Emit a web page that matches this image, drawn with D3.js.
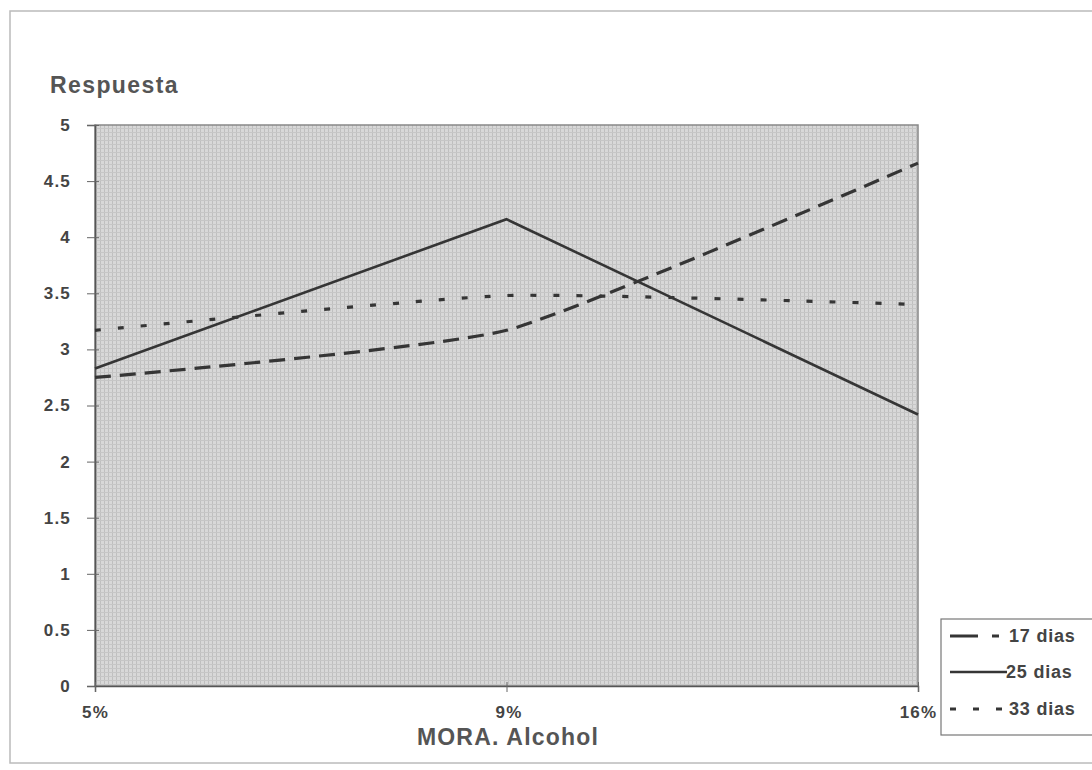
<!DOCTYPE html>
<html><head><meta charset="utf-8">
<script src="https://cdn.jsdelivr.net/npm/d3@7"></script>
<style>body{margin:0;background:#fff}svg{display:block;font-family:"Liberation Sans",Arial,sans-serif}</style>
</head><body>
<svg id="c" width="1092" height="770"></svg>
<script>
const categories = ["5%", "9%", "16%"];
const yTicks = [0, 0.5, 1, 1.5, 2, 2.5, 3, 3.5, 4, 4.5, 5];
const yTickLabels = ["0", "0.5", "1", "1.5", "2", "2.5", "3", "3.5", "4", "4.5", "5"];
const seriesNames = ["17 dias", "25 dias", "33 dias"];
const dias17 = [2.75, 3.17, 4.66];
const dias25 = [2.83, 4.16, 2.42];
const dias33 = [3.17, 3.48, 3.40];

const svg = d3.select("#c");
const L = 95, R = 918, T = 125, B = 686;

// outer frame
svg.append("rect").attr("x", 10).attr("y", 11).attr("width", 1085).attr("height", 752)
  .attr("fill", "none").attr("stroke", "#bbb").attr("stroke-width", 1.5);

// pattern background
const defs = svg.append("defs");
const pat = defs.append("pattern").attr("id", "p").attr("width", 4).attr("height", 4).attr("patternUnits", "userSpaceOnUse");
pat.append("rect").attr("width", 4).attr("height", 4).attr("fill", "#d8d8d8");
pat.append("rect").attr("width", 1).attr("height", 4).attr("fill", "#bfbfbf");
pat.append("rect").attr("width", 4).attr("height", 1).attr("fill", "#c6c6c6");

const x = d3.scalePoint().domain(categories).range([L, R]);
const y = d3.scaleLinear().domain([0, 5]).range([B, T]);

svg.append("rect").attr("x", L).attr("y", T).attr("width", R - L).attr("height", B - T)
  .attr("fill", "url(#p)").attr("stroke", "#888").attr("stroke-width", 1.5);

const tickFont = (sel) => sel.attr("fill", "#444").attr("font-size", 17).attr("font-weight", "bold").attr("letter-spacing", 1.2);

// y axis
const yAxis = d3.axisLeft(y).tickValues(yTicks).tickFormat((d, i) => yTickLabels[i]).tickSize(8).tickPadding(10);
const ya = svg.append("g").attr("transform", `translate(${L},0)`).call(yAxis);
ya.select(".domain").attr("stroke", "#555").attr("stroke-width", 1.5);
ya.selectAll(".tick line").attr("stroke", "#666").attr("x2", 4).attr("x1", -8);
ya.selectAll(".tick text").call(tickFont).attr("dx", -6);

// x axis
const xAxis = d3.axisBottom(x).tickSize(6).tickPadding(14);
const xa = svg.append("g").attr("transform", `translate(0,${B})`).call(xAxis);
xa.select(".domain").attr("stroke", "#555").attr("stroke-width", 1.5);
xa.selectAll(".tick line").attr("stroke", "#666").attr("y1", -4);
xa.selectAll(".tick text").call(tickFont).attr("text-anchor", "middle")
  .attr("dx", (d, i) => i === 1 ? 2 : 0);

svg.append("text").attr("x", 508).attr("y", 745).attr("text-anchor", "middle")
  .attr("font-size", 23).attr("font-weight", "bold").attr("fill", "#555").attr("letter-spacing", 1.2).text("MORA. Alcohol");
svg.append("text").attr("x", 50).attr("y", 93)
  .attr("font-size", 23).attr("font-weight", "bold").attr("fill", "#555").attr("letter-spacing", 1.4).text("Respuesta");

// series
const styles = [
  {data: dias17, dash: "16,9", w: 3.2, curve: d3.curveCardinal.tension(0.5)},
  {data: dias25, dash: null, w: 2.6, curve: d3.curveLinear},
  {data: dias33, dash: "6,17", w: 3.2, curve: d3.curveCardinal.tension(0.5)}
];
styles.forEach(s => {
  const line = d3.line().x((d, i) => x(categories[i])).y(d => y(d)).curve(s.curve);
  svg.append("path").datum(s.data).attr("d", line).attr("fill", "none")
    .attr("stroke", "#353535").attr("stroke-width", s.w)
    .attr("stroke-dasharray", s.dash);
});

// legend
svg.append("rect").attr("x", 941).attr("y", 619).attr("width", 152).attr("height", 116)
  .attr("fill", "#fff").attr("stroke", "#777").attr("stroke-width", 1.2);
const legY = [636, 672, 709];
const legDash = ["28,14,7,100", null, "6,17"];
const legX2 = [1004, 1007, 1004];
seriesNames.forEach((n, i) => {
  svg.append("line").attr("x1", 950).attr("x2", legX2[i]).attr("y1", legY[i]).attr("y2", legY[i])
    .attr("stroke", "#353535").attr("stroke-width", i === 1 ? 2.4 : 3)
    .attr("stroke-dasharray", legDash[i]);
  svg.append("text").attr("x", i === 1 ? 1006 : 1009).attr("y", legY[i] + 6).attr("font-size", 18)
    .attr("font-weight", "bold").attr("fill", "#444").attr("letter-spacing", 0.8).text(n);
});
</script>
</body></html>
